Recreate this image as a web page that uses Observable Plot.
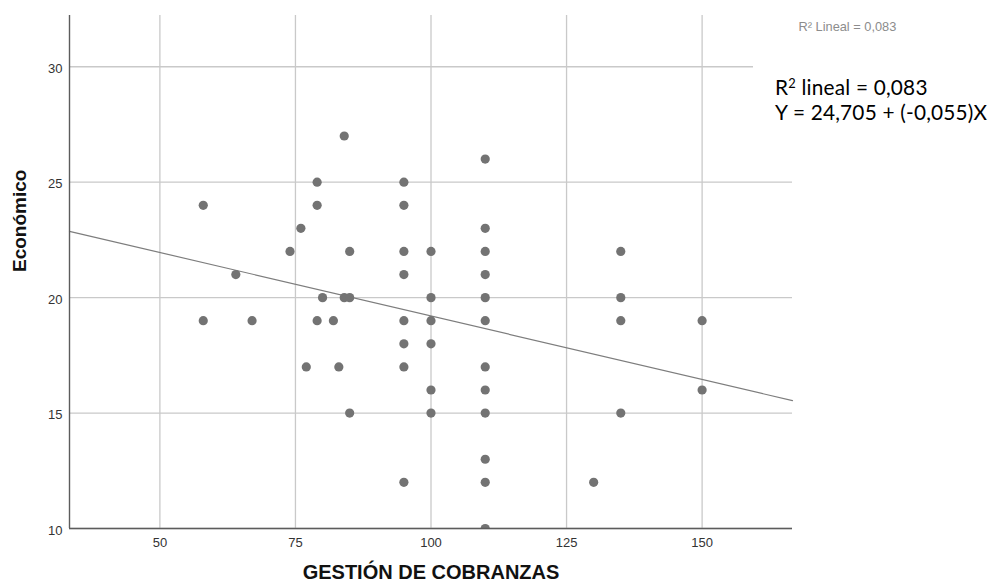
<!DOCTYPE html>
<html>
<head>
<meta charset="utf-8">
<script src="https://cdn.jsdelivr.net/npm/d3@7"></script>
<script src="https://cdn.jsdelivr.net/npm/@observablehq/plot@0.6"></script>
<style>
  body { margin: 0; background: #fff; }
  #wrap { position: relative; width: 991px; height: 584px; overflow: hidden; }
  #eq {
    position: absolute; left: 753px; top: 52px; width: 238px; height: 86px;
    background: #fff; font-family: Lato, "Open Sans", sans-serif; font-size: 20.8px; color: #000;
  }
  #eq .txt { position: absolute; left: 22px; top: 21.5px; white-space: nowrap; line-height: 25.2px; letter-spacing: 0.2px; }
  #eq sup { font-size: 0.62em; vertical-align: 0.55em; line-height: 0; }
</style>
</head>
<body>
<div id="wrap"></div>
<script>
// Scatter of "Económico" against "GESTIÓN DE COBRANZAS", one entry per respondent
const gestion   = [58, 58, 64, 67, 74, 76, 77, 79, 79, 79, 80, 82, 83, 84, 84, 85, 85, 85,
                   95, 95, 95, 95, 95, 95, 95, 95,
                   100, 100, 100, 100, 100, 100,
                   110, 110, 110, 110, 110, 110, 110, 110, 110, 110, 110, 110,
                   130, 135, 135, 135, 135, 150, 150];
const economico = [24, 19, 21, 19, 22, 23, 17, 25, 24, 19, 20, 19, 17, 27, 20, 22, 20, 15,
                   25, 24, 22, 21, 19, 18, 17, 12,
                   22, 20, 19, 18, 16, 15,
                   26, 23, 22, 21, 20, 19, 17, 16, 15, 13, 12, 10,
                   12, 22, 20, 19, 15, 19, 16];

// Axis ranges and tick values
const xDomain = [33.33, 166.67];
const yDomain = [10, 32.22];
const xTicks = [50, 75, 100, 125, 150];
const yTicks = [10, 15, 20, 25, 30];

// Fitted line: Y = 24,705 + (-0,055)X, R² = 0,083
const intercept = 24.705;
const slope = -0.055;
const r2 = "0,083";

const xTitle = "GESTIÓN DE COBRANZAS";
const yTitle = "Económico";

const points = gestion.map((g, i) => ({g, e: economico[i]}));

const chart = Plot.plot({
  width: 991,
  height: 584,
  marginLeft: 69,
  marginRight: 199,
  marginTop: 15,
  marginBottom: 56,
  style: {fontFamily: "'Liberation Sans', Arial, sans-serif", fontSize: "13px", color: "#333", background: "#fff", overflow: "visible"},
  x: {domain: xDomain},
  y: {domain: yDomain},
  marks: [
    Plot.gridX(xTicks, {stroke: "#c9c9c9", strokeOpacity: 1, strokeWidth: 1.3}),
    Plot.gridY(yTicks, {stroke: "#c9c9c9", strokeOpacity: 1, strokeWidth: 1.3}),
    Plot.line(xDomain, {x: d => d, y: d => intercept + slope * d, stroke: "#7d7d7d", strokeWidth: 1.2}),
    Plot.dot(points, {x: "g", y: "e", r: 4.6, fill: "#737373", clip: true}),
    Plot.ruleX([xDomain[0]], {stroke: "#5c5c5c", strokeWidth: 1.4}),
    Plot.ruleY([yDomain[0]], {stroke: "#5c5c5c", strokeWidth: 1.4}),
    Plot.axisX(xTicks, {tickSize: 0, tickPadding: 9, label: null, fill: "#333"}),
    Plot.axisY(yTicks, {tickSize: 0, tickPadding: 7, label: null, fill: "#333", dy: 2}),
    Plot.text([xTitle], {text: d => d, frameAnchor: "bottom", dy: 44.5, lineAnchor: "middle",
      fontWeight: "bold", fontSize: 20, fill: "#111"}),
    Plot.text([yTitle], {text: d => d, frameAnchor: "left", dx: -50, rotate: -90, lineAnchor: "middle",
      fontWeight: "bold", fontSize: 19, fill: "#111"}),
    Plot.text([`R² Lineal = ${r2}`], {text: d => d, frameAnchor: "top-right", textAnchor: "start",
      lineAnchor: "middle", dx: 6, dy: 11, fontSize: 12.8, fill: "#8c8c8c"})
  ]
});

const wrap = document.getElementById("wrap");
wrap.appendChild(chart);

// Equation box placed over the upper right corner
const fmt = v => String(v).replace(".", ",");
const eq = document.createElement("div");
eq.id = "eq";
const txt = document.createElement("div");
txt.className = "txt";
txt.innerHTML = `R<sup>2</sup> lineal = ${r2}<br>` +
  `Y = ${fmt(intercept.toFixed(3))} + (${fmt(slope.toFixed(3))})X`;
eq.appendChild(txt);
wrap.appendChild(eq);
</script>
</body>
</html>
